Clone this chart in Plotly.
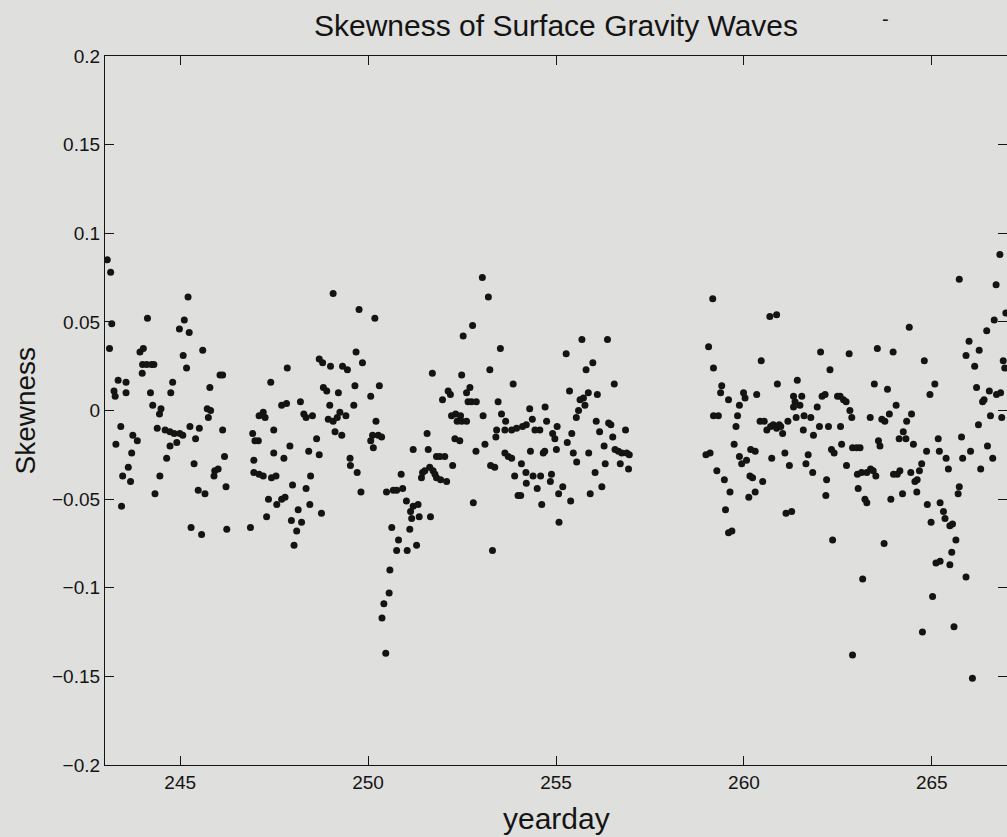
import plotly.graph_objects as go

title_text = "Skewness of Surface Gravity Waves"
x_label = "yearday"
y_label = "Skewness"

x_tick_vals = [245, 250, 255, 260, 265]
y_tick_vals = [0.2, 0.15, 0.1, 0.05, 0, -0.05, -0.1, -0.15, -0.2]
y_tick_text = ["0.2", "0.15", "0.1", "0.05", "0", "\u22120.05", "\u22120.1", "\u22120.15", "\u22120.2"]

# yearday 243 - 251
yearday_a = [243.06, 243.15, 243.18, 243.12, 243.35, 243.56, 243.24, 243.27, 243.56, 243.42,
             243.29, 243.47, 243.62, 243.68, 243.71, 243.74, 243.86, 243.44, 243.93, 244.02,
             244.13, 244.00, 244.11, 244.24, 244.30, 243.99, 244.21, 244.27, 244.49, 244.45,
             244.39, 244.60, 244.73, 244.84, 244.99, 245.07, 244.64, 244.73, 244.91, 244.46,
             244.33, 244.75, 244.80, 245.11, 244.98, 245.24, 245.21, 245.08, 245.17, 245.26,
             245.41, 245.51, 245.37, 245.48, 245.66, 245.29, 245.57, 245.60, 245.79, 245.72,
             245.81, 245.75, 246.06, 246.13, 246.13, 246.18, 246.22, 245.92, 246.01, 245.90,
             246.24, 246.87, 246.93, 246.99, 247.08, 246.96, 246.96, 247.10, 247.21, 247.10,
             247.21, 247.26, 247.41, 247.49, 247.49, 247.43, 247.55, 247.35, 247.30, 247.57,
             247.70, 247.79, 247.76, 247.85, 247.70, 247.83, 247.92, 247.99, 247.96, 248.10,
             248.14, 248.23, 248.03, 248.20, 248.29, 248.35, 248.52, 248.42, 248.63, 248.70,
             248.47, 248.35, 248.45, 248.76, 248.70, 248.79, 249.00, 249.07, 248.81, 248.90,
             248.98, 248.94, 249.07, 249.18, 249.25, 249.21, 249.12, 249.30, 249.41, 249.32,
             249.45, 249.65, 249.62, 249.68, 249.85, 249.76, 250.18, 250.30, 250.07, 250.21,
             250.12, 250.27, 250.36, 250.07, 250.14, 249.52, 249.53, 249.71, 249.81, 250.49,
             250.67, 250.76, 250.88, 250.92, 251.02, 251.13, 251.20, 251.33, 251.36, 251.16,
             251.11, 250.63, 250.81, 250.76, 251.04, 251.29, 250.58, 250.56, 250.42, 250.37,
             250.47]
skewness_a = [0.085, 0.078, 0.049, 0.035, 0.017, 0.016, 0.011, 0.008, 0.010, -0.009,
              -0.019, -0.037, -0.032, -0.040, -0.024, -0.014, -0.017, -0.054, 0.033, 0.035,
              0.052, 0.026, 0.026, 0.026, 0.026, 0.021, 0.010, 0.003, 0.001, -0.002,
              -0.010, -0.011, -0.012, -0.013, -0.013, -0.014, -0.027, -0.020, -0.018, -0.037,
              -0.047, 0.010, 0.016, 0.051, 0.046, 0.044, 0.064, 0.031, 0.024, -0.009,
              -0.016, -0.010, -0.030, -0.045, -0.047, -0.066, -0.070, 0.034, 0.013, 0.001,
              0.000, -0.004, 0.020, 0.020, -0.011, -0.026, -0.043, -0.034, -0.033, -0.037,
              -0.067, -0.066, -0.013, -0.017, -0.017, -0.028, -0.035, -0.036, -0.037, -0.003,
              -0.001, -0.004, 0.016, -0.011, -0.024, -0.038, -0.037, -0.050, -0.060, -0.053,
              -0.050, -0.049, -0.027, 0.024, 0.003, 0.004, -0.020, -0.042, -0.062, -0.068,
              -0.056, -0.063, -0.076, 0.005, -0.002, -0.004, -0.003, -0.023, -0.016, -0.025,
              -0.037, -0.044, -0.053, -0.058, 0.029, 0.027, 0.025, 0.066, 0.013, 0.011,
              0.003, -0.005, -0.006, -0.004, -0.001, 0.010, -0.012, -0.014, -0.003, 0.025,
              0.023, 0.014, 0.003, 0.033, 0.027, 0.057, 0.052, 0.014, 0.008, -0.006,
              -0.014, -0.014, -0.015, -0.017, -0.021, -0.027, -0.031, -0.035, -0.046, -0.046,
              -0.045, -0.045, -0.036, -0.044, -0.051, -0.057, -0.054, -0.053, -0.060, -0.061,
              -0.067, -0.066, -0.073, -0.079, -0.079, -0.076, -0.090, -0.103, -0.109, -0.117,
              -0.137]

# yearday 251 - 257
yearday_b = [251.20, 251.57, 251.60, 251.45, 251.42, 251.51, 251.64, 251.73, 251.82, 251.91,
             252.04, 251.82, 251.93, 252.09, 251.78, 251.66, 251.71, 252.25, 251.98, 252.13,
             252.19, 252.22, 252.33, 252.37, 252.46, 252.49, 252.62, 252.31, 252.44, 252.49,
             252.62, 252.71, 252.66, 252.75, 252.88, 252.53, 252.78, 253.04, 253.20, 253.06,
             252.87, 253.11, 252.80, 253.24, 253.52, 253.86, 253.46, 253.55, 253.66, 253.42,
             253.40, 253.64, 253.82, 253.95, 254.11, 254.21, 253.26, 253.37, 253.31, 253.64,
             253.73, 253.82, 253.90, 253.99, 254.06, 254.08, 254.20, 254.21, 254.32, 254.39,
             254.50, 254.59, 254.62, 254.30, 254.37, 254.44, 254.57, 254.75, 254.71, 254.66,
             254.70, 254.91, 254.97, 255.03, 255.01, 254.88, 254.85, 255.07, 255.08, 255.18,
             255.39, 255.27, 255.36, 255.30, 255.42, 255.46, 255.55, 255.54, 255.60, 255.69,
             255.80, 255.98, 255.64, 255.73, 255.77, 255.86, 256.10, 256.07, 256.16, 256.28,
             256.40, 256.46, 256.51, 256.31, 256.04, 255.91, 256.22, 255.87, 256.55, 256.37,
             256.57, 256.66, 256.75, 256.88, 256.95, 256.85, 256.71, 256.93]
skewness_b = [-0.022, -0.013, -0.022, -0.035, -0.038, -0.034, -0.032, -0.034, -0.026, -0.026,
              -0.026, -0.038, -0.039, -0.040, -0.036, -0.060, 0.021, -0.031, 0.006, 0.011,
              0.009, -0.003, -0.002, -0.006, -0.003, -0.006, -0.006, -0.016, -0.017, 0.020,
              0.010, 0.013, 0.005, 0.005, 0.005, 0.042, 0.048, 0.075, 0.064, -0.003,
              -0.023, -0.019, -0.052, 0.023, 0.035, 0.015, 0.005, -0.002, -0.006, -0.011,
              -0.015, -0.011, -0.011, -0.010, -0.009, -0.008, -0.031, -0.032, -0.079, -0.024,
              -0.026, -0.027, -0.037, -0.048, -0.048, -0.030, -0.035, -0.041, -0.023, -0.037,
              -0.044, -0.037, -0.053, 0.001, -0.005, -0.011, -0.011, -0.006, 0.002, -0.024,
              -0.023, -0.013, -0.016, -0.009, -0.022, -0.036, -0.040, -0.047, -0.063, -0.043,
              -0.051, 0.032, 0.011, -0.018, -0.013, -0.024, -0.029, -0.004, 0.000, 0.040,
              0.023, 0.027, 0.006, 0.007, 0.003, 0.010, 0.009, -0.006, -0.012, -0.020,
              -0.007, -0.008, -0.015, -0.030, -0.035, -0.047, -0.043, -0.024, 0.015, 0.040,
              -0.022, -0.023, -0.024, -0.024, -0.025, -0.011, -0.030, -0.033]

# yearday 259 - 264
yearday_c = [259.06, 259.19, 259.17, 258.99, 259.10, 259.19, 259.32, 259.28, 259.41, 259.38,
             259.59, 259.48, 259.51, 259.59, 259.68, 259.63, 259.74, 259.79, 259.83, 259.88,
             259.99, 260.03, 259.88, 259.94, 260.07, 260.16, 260.23, 260.18, 260.30, 260.13,
             260.30, 260.50, 260.34, 260.46, 260.43, 260.54, 260.61, 260.71, 260.78, 260.87,
             260.94, 260.98, 261.03, 260.74, 260.69, 260.87, 260.89, 261.09, 261.21, 261.12,
             261.27, 261.17, 261.32, 261.36, 261.32, 261.42, 261.39, 261.49, 261.54, 261.60,
             261.58, 261.71, 261.65, 261.78, 261.85, 261.83, 261.95, 262.01, 262.04, 262.08,
             262.16, 262.25, 262.29, 262.20, 262.18, 262.33, 262.40, 262.36, 262.49, 262.56,
             262.65, 262.72, 262.57, 262.60, 262.82, 262.87, 262.80, 262.73, 262.89, 263.00,
             263.09, 263.02, 263.04, 263.13, 263.27, 263.37, 263.44, 263.51, 263.16, 263.22,
             263.27, 263.36, 263.47, 263.55, 263.58, 263.62, 263.67, 263.75, 263.82, 263.87,
             262.89, 263.73]
skewness_c = [0.036, 0.024, 0.063, -0.025, -0.024, -0.003, -0.003, -0.034, 0.014, 0.010,
              0.006, -0.039, -0.056, -0.069, -0.068, -0.046, -0.019, -0.009, -0.003, 0.003,
              0.010, 0.007, -0.026, -0.030, -0.028, -0.037, -0.038, -0.022, -0.023, -0.049,
              -0.046, -0.040, 0.009, 0.028, -0.006, -0.006, -0.011, -0.009, -0.008, -0.010,
              -0.008, -0.009, -0.013, -0.027, 0.053, 0.054, 0.015, -0.024, -0.031, -0.058,
              -0.057, -0.006, 0.008, 0.005, 0.002, 0.017, -0.004, 0.003, 0.008, -0.003,
              -0.011, -0.025, -0.030, -0.004, -0.014, -0.035, 0.002, -0.009, 0.033, 0.008,
              0.009, -0.009, 0.023, -0.039, -0.048, -0.022, -0.024, -0.073, 0.008, 0.008,
              0.006, 0.005, -0.009, -0.019, 0.000, -0.004, 0.032, -0.031, -0.021, -0.021,
              -0.021, -0.036, -0.044, -0.035, -0.035, -0.033, -0.034, -0.037, -0.095, -0.050,
              -0.052, -0.004, 0.015, 0.035, -0.017, -0.020, -0.005, -0.006, 0.012, -0.002,
              -0.138, -0.075]

# yearday 264 - 267
yearday_d = [263.97, 264.05, 263.91, 263.98, 264.08, 264.15, 264.22, 264.13, 264.24, 264.31,
             264.33, 264.46, 264.40, 264.51, 264.44, 264.55, 264.61, 264.60, 264.67, 264.73,
             264.80, 264.86, 264.88, 264.95, 264.98, 265.08, 265.17, 265.20, 265.22, 265.31,
             265.35, 265.38, 265.44, 265.48, 265.55, 265.64, 265.53, 265.48, 265.22, 265.11,
             265.02, 264.75, 265.59, 265.91, 266.08, 265.73, 265.73, 265.70, 265.79, 265.82,
             265.91, 265.99, 266.14, 266.26, 266.03, 266.19, 266.24, 266.35, 266.39, 266.30,
             266.46, 266.48, 266.53, 266.56, 266.62, 266.66, 266.71, 266.72, 266.81, 266.83,
             266.86, 266.90, 266.94, 266.97]
skewness_d = [0.033, 0.003, -0.050, -0.036, -0.036, -0.034, -0.047, -0.016, -0.012, -0.016,
              -0.006, -0.002, 0.047, -0.019, -0.035, -0.040, -0.039, -0.046, -0.034, -0.030,
              0.028, -0.023, -0.053, 0.009, -0.063, 0.015, -0.016, -0.023, -0.052, -0.057,
              -0.061, -0.027, -0.033, -0.065, -0.064, -0.073, -0.080, -0.087, -0.085, -0.086,
              -0.105, -0.125, -0.122, -0.094, -0.151, 0.074, -0.043, -0.047, -0.015, -0.027,
              0.031, 0.039, 0.025, 0.034, -0.023, 0.013, -0.008, 0.005, 0.006, -0.033,
              0.045, -0.020, 0.011, -0.003, -0.027, 0.051, 0.071, 0.009, 0.088, 0.010,
              -0.004, 0.028, 0.024, 0.055]

yearday = yearday_a + yearday_b + yearday_c + yearday_d
skewness = skewness_a + skewness_b + skewness_c + skewness_d

bg = "#dfdfdd"
ink = "#141414"
font_family = "Liberation Sans, Arial, Helvetica, sans-serif"

fig = go.Figure()
fig.add_trace(go.Scatter(
    x=yearday, y=skewness, mode="markers",
    marker=dict(size=7, color=ink, line=dict(width=0)),
    showlegend=False, hoverinfo="x+y",
))

axis_common = dict(
    showgrid=False, zeroline=False, showline=True, linecolor=ink, linewidth=1.3,
    mirror="ticks", ticks="inside", ticklen=9, tickwidth=1, tickcolor=ink,
    tickfont=dict(family=font_family, size=19, color=ink),
)

fig.update_xaxes(range=[243, 267], tickvals=x_tick_vals,
                 ticktext=[str(v) for v in x_tick_vals], **axis_common)
fig.update_yaxes(range=[-0.2, 0.2], tickvals=y_tick_vals, ticktext=y_tick_text,
                 **axis_common)

fig.update_layout(
    width=1007, height=837,
    margin=dict(l=105, r=0, t=56, b=72),
    paper_bgcolor=bg, plot_bgcolor=bg,
    font=dict(family=font_family, color=ink),
    annotations=[
        dict(text=title_text, xref="paper", yref="paper", x=0.5, y=1, yshift=31,
             showarrow=False, xanchor="center", yanchor="middle",
             font=dict(family=font_family, size=30, color=ink)),
        dict(text="-", xref="paper", yref="paper", x=0.865, y=1, yshift=37,
             showarrow=False, xanchor="center", yanchor="middle",
             font=dict(family=font_family, size=20, color=ink)),
        dict(text=x_label, xref="paper", yref="paper", x=0.5, y=0, yshift=-53,
             showarrow=False, xanchor="center", yanchor="middle",
             font=dict(family=font_family, size=30, color=ink)),
        dict(text=y_label, xref="paper", yref="paper", x=0, xshift=-80, y=0.5,
             textangle=-90, showarrow=False, xanchor="center", yanchor="middle",
             font=dict(family=font_family, size=28, color=ink)),
    ],
)

fig.write_html(
    "out.html",
    config={"displayModeBar": False},
    post_script="document.body.style.margin='0';document.body.style.background='#dfdfdd';",
)
